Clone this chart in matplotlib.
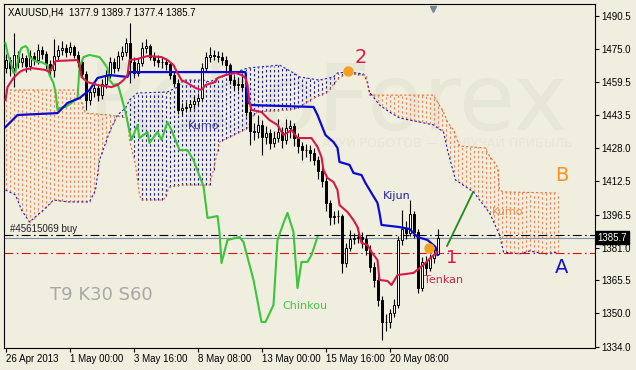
import numpy as np
import matplotlib.pyplot as plt
from matplotlib import transforms

plt.rcParams['font.family'] = ['Liberation Sans', 'DejaVu Sans']

# --- candles (bar index 0 = first visible H4 bar) ---
opens = [1466.0, 1469.7, 1465.9, 1472.1, 1468.7, 1470.6, 1466.9, 1471.6, 1469.7, 1474.4,
         1472.5, 1467.8, 1465.0, 1471.6, 1474.4, 1475.4, 1473.5, 1475.8, 1472.1, 1468.7,
         1463.1, 1450.8, 1454.6, 1456.5, 1453.1, 1458.4, 1462.6, 1468.7, 1465.9, 1471.6,
         1473.5, 1477.7, 1469.0, 1463.6, 1468.3, 1475.4, 1476.3, 1471.1, 1469.7, 1468.7,
         1468.7, 1467.8, 1462.6, 1458.8, 1446.1, 1447.2, 1447.5, 1448.8, 1450.5, 1451.7,
         1466.0, 1471.1, 1472.1, 1471.7, 1471.3, 1469.9, 1467.3, 1460.2, 1457.9, 1458.4,
         1457.0, 1445.1, 1436.0, 1435.5, 1439.0, 1433.5, 1435.0, 1430.5, 1433.0, 1435.7,
         1431.9, 1437.6, 1438.5, 1433.0, 1429.0, 1427.1, 1427.1, 1425.5, 1422.4, 1417.3,
         1412.5, 1402.0, 1395.6, 1395.8, 1395.9, 1373.7, 1381.0, 1385.0, 1385.5, 1386.0,
         1385.0, 1380.0, 1372.0, 1365.7, 1356.0, 1345.8, 1345.8, 1350.0, 1353.9, 1384.6,
         1390.0, 1388.0, 1397.0, 1388.4, 1361.9, 1374.2, 1371.5, 1376.0, 1377.9]
closes = [1469.7, 1465.9, 1472.1, 1468.7, 1470.6, 1466.9, 1471.6, 1469.7, 1474.4, 1472.5,
          1467.8, 1465.0, 1471.6, 1474.4, 1475.4, 1473.5, 1475.8, 1472.1, 1468.7, 1463.1,
          1450.8, 1454.6, 1456.5, 1453.1, 1458.4, 1462.6, 1468.7, 1465.9, 1471.6, 1473.5,
          1477.7, 1469.0, 1463.6, 1468.3, 1475.4, 1476.3, 1471.1, 1469.7, 1468.7, 1468.7,
          1467.8, 1462.6, 1458.8, 1446.1, 1447.2, 1447.5, 1448.8, 1450.5, 1451.7, 1466.0,
          1471.1, 1472.1, 1471.7, 1471.3, 1469.9, 1467.3, 1460.2, 1457.9, 1458.4, 1457.0,
          1445.1, 1436.0, 1435.5, 1439.0, 1433.5, 1435.0, 1430.5, 1433.0, 1435.7, 1431.9,
          1437.6, 1438.5, 1433.0, 1429.0, 1427.1, 1427.1, 1425.5, 1422.4, 1417.3, 1412.5,
          1402.0, 1395.6, 1395.8, 1395.9, 1373.7, 1381.0, 1385.0, 1385.5, 1386.0, 1385.0,
          1380.0, 1372.0, 1365.7, 1356.0, 1345.8, 1345.8, 1350.0, 1353.9, 1384.6, 1390.0,
          1388.0, 1397.0, 1388.4, 1361.9, 1374.2, 1371.5, 1376.0, 1377.9, 1385.7]
highs = [1472.5, 1471.0, 1482.5, 1474.0, 1473.0, 1472.0, 1474.5, 1473.5, 1477.5, 1476.5,
         1474.0, 1469.5, 1479.5, 1477.0, 1478.5, 1477.5, 1478.0, 1477.0, 1474.0, 1470.0,
         1464.5, 1457.0, 1459.0, 1458.0, 1460.5, 1465.0, 1471.0, 1470.5, 1474.0, 1476.5,
         1480.0, 1487.2, 1471.0, 1470.5, 1478.0, 1479.5, 1477.5, 1473.5, 1472.0, 1471.0,
         1470.5, 1469.0, 1464.5, 1460.5, 1449.5, 1450.0, 1451.0, 1452.5, 1454.0, 1468.5,
         1473.5, 1476.0, 1474.5, 1474.0, 1473.5, 1471.5, 1468.5, 1462.0, 1461.0, 1463.5,
         1459.0, 1447.0, 1440.0, 1443.5, 1441.5, 1438.5, 1437.0, 1436.0, 1442.0, 1438.0,
         1442.0, 1441.5, 1440.0, 1435.0, 1431.0, 1430.0, 1429.5, 1428.0, 1424.5, 1419.5,
         1414.5, 1403.5, 1398.5, 1399.0, 1397.0, 1383.0, 1389.5, 1388.0, 1390.5, 1388.5,
         1387.0, 1382.0, 1374.0, 1367.5, 1358.0, 1349.5, 1352.0, 1356.5, 1386.5, 1398.8,
         1393.5, 1403.5, 1398.5, 1390.0, 1376.5, 1377.0, 1378.0, 1380.5, 1389.7]
lows = [1463.5, 1462.0, 1457.0, 1466.0, 1466.5, 1464.0, 1465.0, 1467.5, 1468.0, 1470.0,
        1465.5, 1462.5, 1461.5, 1469.5, 1472.0, 1471.0, 1472.0, 1470.5, 1466.5, 1461.0,
        1446.1, 1448.5, 1452.0, 1450.5, 1451.5, 1456.5, 1461.0, 1463.5, 1464.5, 1469.5,
        1471.5, 1458.8, 1461.0, 1462.0, 1467.0, 1473.0, 1469.5, 1467.0, 1466.5, 1466.0,
        1465.0, 1460.5, 1457.0, 1444.0, 1443.5, 1445.0, 1445.5, 1446.5, 1448.5, 1450.5,
        1464.5, 1469.0, 1469.5, 1469.0, 1467.5, 1463.5, 1458.5, 1455.5, 1455.0, 1455.5,
        1443.0, 1429.5, 1432.0, 1433.0, 1425.0, 1430.0, 1427.5, 1428.5, 1431.0, 1428.0,
        1430.0, 1433.0, 1429.0, 1425.5, 1422.5, 1424.0, 1422.0, 1420.0, 1413.5, 1409.5,
        1398.5, 1391.5, 1392.0, 1392.5, 1369.0, 1372.0, 1379.5, 1382.5, 1383.0, 1381.0,
        1377.5, 1369.5, 1362.5, 1353.5, 1337.3, 1341.5, 1343.0, 1348.0, 1352.5, 1382.0,
        1385.0, 1386.5, 1385.5, 1359.5, 1360.5, 1368.0, 1370.0, 1373.5, 1377.4]

# --- Ichimoku lines, vertices (bar, price) ---
tenkan_bars = [0, 0.5, 2, 3.5, 4.5, 6.5, 8.5, 10, 11, 12, 12.5, 18, 18.5, 19, 20.5, 23, 26.5, 28,
               29.5, 30.5, 31, 33, 35.5, 39, 40.5, 42, 43, 44, 45.5, 47.5, 49, 50, 52.5, 53, 55,
               57.5, 59, 60, 60.5, 61, 61.5, 64, 66, 68, 69.5, 71.5, 73, 76.5, 78, 79, 79.5, 80.5,
               82, 83, 83.5, 85.5, 87, 88, 89, 90.5, 91.5, 93, 93.5, 95.5, 96.5, 98, 102, 104.5,
               106.5, 108]
tenkan_vals = [1450.8, 1456.9, 1461.2, 1464.0, 1465.0, 1465.9, 1465.4, 1465.0, 1464.0, 1467.3,
               1469.2, 1469.7, 1467.3, 1461.7, 1459.3, 1457.9, 1456.9, 1457.9, 1460.2, 1462.6,
               1469.7, 1470.2, 1471.6, 1471.1, 1469.7, 1467.3, 1463.6, 1460.2, 1458.8, 1456.5,
               1455.5, 1457.9, 1459.3, 1461.2, 1462.6, 1463.6, 1462.6, 1461.2, 1457.9, 1449.8,
               1446.1, 1445.1, 1441.3, 1439.0, 1434.2, 1436.6, 1432.8, 1432.8, 1428.6, 1423.8,
               1417.7, 1413.9, 1412.0, 1408.2, 1401.1, 1397.8, 1394.0, 1390.7, 1383.2, 1382.2,
               1378.9, 1375.1, 1365.7, 1365.2, 1363.3, 1368.0, 1369.0, 1372.8, 1376.6, 1378.9]

kijun_bars = [0, 1, 3, 13, 15.5, 18.5, 21, 23, 26, 30.5, 31, 60, 60.5, 61.5, 77, 78, 78.5, 80,
              82, 83, 83.5, 86, 87, 89, 90, 91.5, 93, 93.5, 94, 98.5, 101, 103, 105.5, 107.5, 108]
kijun_vals = [1438.0, 1439.9, 1443.7, 1444.6, 1449.4, 1451.7, 1455.5, 1461.2, 1462.6, 1461.7,
              1464.0, 1464.0, 1449.8, 1448.4, 1447.5, 1443.7, 1441.3, 1434.2, 1430.9, 1428.1,
              1421.5, 1420.1, 1416.3, 1415.3, 1411.5, 1406.8, 1402.1, 1397.4, 1391.7, 1390.7,
              1389.8, 1386.0, 1384.6, 1381.3, 1377.5]

chikou_bars = [0, 0.5, 1.5, 2, 2.5, 3, 3.5, 4, 5, 5.5, 6, 7, 8, 9, 10.5, 11, 12, 12.5, 13, 13.5,
               15, 16.5, 18, 18.5, 19.5, 21, 23.5, 24.5, 25.5, 26, 27, 28, 28.5, 30, 30.5, 31.5,
               33, 33.5, 35.5, 36, 38, 39, 40.5, 41.5, 43.5, 45.5, 47, 48.5, 49.5, 50.5, 53, 53.5,
               54, 55.5, 58.5, 59.5, 62, 64, 65, 67, 68, 69.5, 70.5, 72, 73, 74, 75.5, 76.5, 78]
chikou_vals = [1477.7, 1473.0, 1467.3, 1463.6, 1464.0, 1468.3, 1473.0, 1475.4, 1476.3, 1475.4,
               1471.1, 1469.7, 1468.7, 1468.7, 1467.3, 1462.6, 1458.8, 1454.6, 1446.1, 1447.0,
               1447.5, 1449.4, 1451.7, 1466.4, 1471.1, 1472.1, 1471.1, 1468.7, 1465.9, 1460.2,
               1457.9, 1458.4, 1455.5, 1445.1, 1440.4, 1431.9, 1439.0, 1432.8, 1435.7, 1430.5,
               1435.7, 1431.9, 1440.4, 1436.6, 1427.1, 1427.1, 1422.4, 1414.8, 1410.1, 1395.0,
               1395.9, 1388.4, 1373.7, 1384.6, 1386.0, 1383.6, 1365.7, 1345.8, 1345.8, 1353.9,
               1384.6, 1392.6, 1397.4, 1388.4, 1361.9, 1374.2, 1374.2, 1377.5, 1386.0]

span_a_bars = [0, 2.5, 4, 6, 9.5, 12, 15.5, 21, 22.5, 23.5, 26, 28, 30, 31, 33, 40.5, 43, 44.5,
               49.5, 51, 53, 57, 60.5, 68.5, 72, 73.5, 78.5, 82, 83, 86, 89.5, 90.5, 91, 93.5, 96,
               98.5, 103.5, 107, 109.5, 110.5, 112.5, 117, 121, 123.5, 124.5, 128.5, 131, 135, 138]
span_a_vals = [1408.2, 1405.9, 1398.8, 1393.1, 1398.8, 1403.5, 1402.6, 1402.6, 1408.2, 1422.4,
               1435.7, 1443.7, 1447.0, 1450.8, 1454.1, 1454.6, 1456.9, 1460.2, 1460.2, 1459.3,
               1461.2, 1463.6, 1465.9, 1467.3, 1463.6, 1461.7, 1460.2, 1461.7, 1463.6, 1464.0,
               1463.1, 1459.3, 1454.6, 1448.4, 1445.1, 1442.3, 1440.4, 1439.0, 1435.7, 1427.1,
               1413.0, 1407.3, 1397.4, 1387.0, 1378.9, 1378.0, 1379.4, 1378.0, 1378.9]

span_b_bars = [0, 18, 18.5, 20, 26, 30.5, 31, 32.5, 33.5, 34, 39.5, 41, 44, 51, 52, 53.5, 55.5,
               60.5, 62, 63, 70.5, 73, 77, 80.5, 83.5, 85.5, 90, 90.5, 91, 107, 108, 109.5, 110.5,
               112, 113.5, 120, 120.5, 123, 123.5, 124.5, 138]
span_b_vals = [1455.5, 1455.5, 1452.2, 1444.6, 1443.7, 1442.3, 1431.9, 1420.1, 1405.9, 1403.5,
               1403.5, 1409.7, 1410.6, 1410.6, 1417.7, 1430.9, 1432.8, 1437.5, 1443.7, 1445.1,
               1446.1, 1447.0, 1451.7, 1454.6, 1461.7, 1463.1, 1462.6, 1457.9, 1453.1, 1453.1,
               1449.8, 1445.1, 1440.4, 1436.6, 1429.0, 1428.1, 1425.7, 1419.1, 1408.2, 1407.3,
               1406.8]

# --- other marks ---
price_ticks = [1490.5, 1475.0, 1459.5, 1443.5, 1428.0, 1412.5, 1396.5, 1381.0, 1365.5, 1350.0, 1334.0]
date_ticks = [0, 16, 32, 48, 64, 80, 96]
date_labels = ['26 Apr 2013', '1 May 00:00', '3 May 16:00', '8 May 08:00',
               '13 May 00:00', '15 May 16:00', '20 May 08:00']
order_price = 1387.0
bid_price = 1385.7
stop_price = 1378.4
point_bars = [85.6, 105.9]
point_prices = [1464.5, 1380.8]
trend_bars = [110.4, 116.9]
trend_prices = [1381.8, 1407.3]

bg = '#efeedf'
blue_line = '#1a1ad0'
orange_line = '#f06a28'
blue_hatch = '#1c1c9a'
orange_hatch = '#f2875a'

fig = plt.figure(figsize=(6.36, 3.70), dpi=100, facecolor=bg)
ax = fig.add_axes([4 / 636, 22 / 370, 591 / 636, 344 / 370], facecolor=bg)
ax.set_xlim(-0.375, 147.375)
ax.set_ylim(1333.5, 1496.2)

# faint watermark, behind everything in the plot
ax.text(0.515, 0.648, 'RoboForex', transform=fig.transFigure, fontsize=66, color='#e7e7d8',
        ha='center', va='baseline', family='DejaVu Sans', zorder=0.2)
ax.text(0.506, 0.613, 'АЗУЙ РОБОТОВ — ПОЛУЧАЙ ПРИБЫЛЬ', transform=fig.transFigure, fontsize=9,
        color='#e7e7d8', ha='left', va='center', family='DejaVu Sans', zorder=0.2)

# cloud hatch: one dotted vertical line per bar
cb = np.arange(0, 139)
a = np.interp(cb, span_a_bars, span_a_vals)
b = np.interp(cb, span_b_bars, span_b_vals)
up = a >= b
ax.vlines(cb[up], b[up], a[up], colors=blue_hatch, linestyles=[(0, (2.2, 2.2))], lw=0.8, zorder=1)
ax.vlines(cb[~up], a[~up], b[~up], colors=orange_hatch, linestyles=[(0, (2.2, 2.2))], lw=0.8, zorder=1)
ax.plot(span_a_bars, span_a_vals, color=blue_line, lw=0.8, ls=(0, (2, 2)), zorder=2)
ax.plot(span_b_bars, span_b_vals, color=orange_line, lw=0.8, ls=(0, (2, 2)), zorder=2)

# level lines
ax.axhline(order_price, color='black', lw=0.8, ls=(0, (8, 3, 1.5, 3)), zorder=2.5)
ax.axhline(bid_price, color='#7d8ea2', lw=0.8, zorder=2.5)
ax.axhline(stop_price, color='#e01010', lw=0.8, ls=(0, (8, 3, 1.5, 3)), zorder=2.5)

# candles
o = np.array(opens)
c = np.array(closes)
idx = np.arange(len(c))
ax.vlines(idx, lows, highs, color='black', lw=0.8, zorder=3)
bull = c >= o
ax.bar(idx[bull], (c - o)[bull], bottom=o[bull], width=0.5, color='white',
       edgecolor='black', linewidth=0.7, zorder=3.5)
ax.bar(idx[~bull], (o - c)[~bull], bottom=c[~bull], width=0.5, color='black',
       edgecolor='black', linewidth=0.7, zorder=3.5)

# ichimoku lines
ax.plot(chikou_bars, chikou_vals, color='#3cc43c', lw=1.5, zorder=4)
ax.plot(kijun_bars, kijun_vals, color='#0a0ad2', lw=1.6, zorder=4.2)
ax.plot(tenkan_bars, tenkan_vals, color='#d81848', lw=1.5, zorder=4.3)

ax.plot(trend_bars, trend_prices, color='#1f8a1f', lw=1.3, zorder=5)
ax.plot(point_bars, point_prices, 'o', color='#f7a020', ms=6.5, zorder=6)

# labels on chart
ax.text(45.6, 1438.5, 'Kumo', color='#3434c4', fontsize=8, family='DejaVu Sans', va='center', zorder=5)
ax.text(94.4, 1405.4, 'Kijun', color='#2222a8', fontsize=8, family='DejaVu Sans', va='center', zorder=5)
ax.text(121.6, 1397.8, 'Kumo', color='#f09050', fontsize=8, family='DejaVu Sans', va='center', zorder=5)
ax.text(137.4, 1414.9, 'B', color='#ff9222', fontsize=14, family='DejaVu Sans', va='center', zorder=5)
ax.text(137.4, 1371.4, 'A', color='#1414c0', fontsize=14, family='DejaVu Sans', va='center', zorder=5)
ax.text(110.1, 1376.1, '1', color='#e01848', fontsize=13, family='DejaVu Sans', va='center', zorder=5)
ax.text(87.4, 1471.1, '2', color='#e01848', fontsize=14, family='DejaVu Sans', va='center', zorder=5)
ax.text(104.6, 1365.7, 'Tenkan', color='#d82050', fontsize=8, family='DejaVu Sans', va='center', zorder=5)
ax.text(69.1, 1353.4, 'Chinkou', color='#44c444', fontsize=8, family='DejaVu Sans', va='center', zorder=5)
ax.text(11.1, 1358.6, 'T9 K30 S60', color='#a8a8a8', fontsize=13, family='DejaVu Sans', va='center', zorder=5)
ax.text(1.1, 1389.8, '#45615069 buy', color='#202020', fontsize=7, va='center', zorder=5)
ax.text(0.0068, 0.974, 'XAUUSD,H4  1377.9 1389.7 1377.4 1385.7', transform=ax.transAxes,
        fontsize=7, va='center', ha='left', zorder=6)

# chart shift marker
ax.plot([0.726], [0.985], marker='v', color='#7a8592', ms=5, transform=ax.transAxes,
        clip_on=False, zorder=6)

# price box on the right axis
trans = transforms.blended_transform_factory(ax.transAxes, ax.transData)
ax.text(1.004, bid_price, '1385.7', transform=trans, ha='left', va='center', color='white',
        fontsize=7, clip_on=False, zorder=10,
        bbox=dict(boxstyle='square,pad=0.18', fc='black', ec='black'))

# axes
ax.yaxis.tick_right()
ax.set_yticks(price_ticks)
ax.set_yticklabels([f'{v:.1f}' for v in price_ticks])
ax.set_xticks(date_ticks)
ax.set_xticklabels(date_labels, ha='left')
shift = transforms.ScaledTranslation(1.5 / 72, 0, fig.dpi_scale_trans)
for lb in ax.get_xticklabels():
    lb.set_transform(lb.get_transform() + shift)
ax.tick_params(axis='both', labelsize=7, length=3, width=0.8, pad=1.5, colors='black')
for s in ax.spines.values():
    s.set_color('black')
    s.set_linewidth(0.8)

fig.savefig('out.png', dpi=100, facecolor=bg)
